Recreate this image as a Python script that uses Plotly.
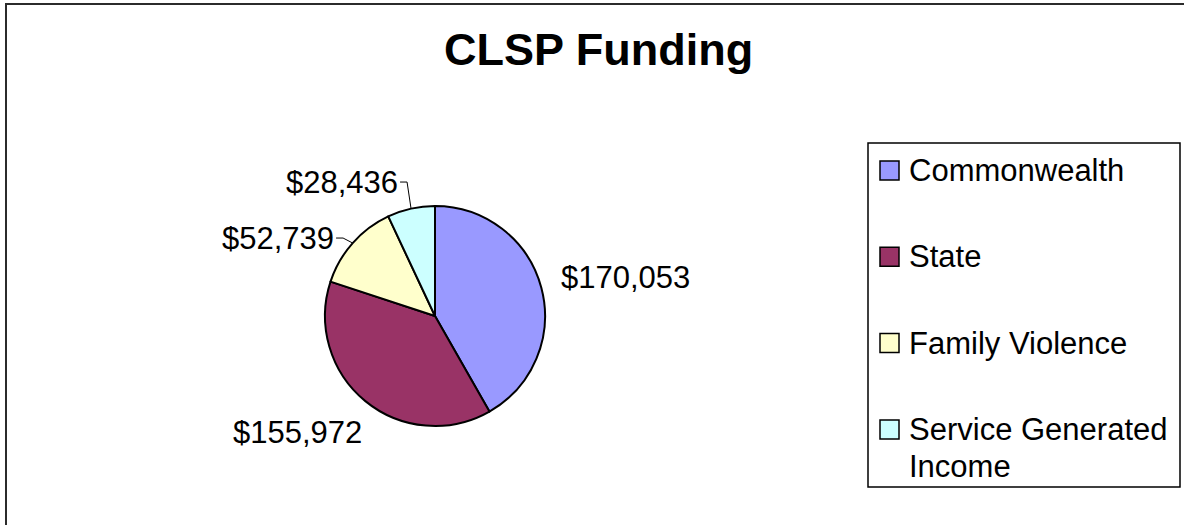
import math
import textwrap
import plotly.graph_objects as go

# Funding sources and amounts
categories = ["Commonwealth", "State", "Family Violence", "Service Generated Income"]
funding = [170053, 155972, 52739, 28436]
title_text = "CLSP Funding"

# Styling
colors = ["#9999FF", "#993366", "#FFFFCC", "#CCFFFF"]
FONT = "Liberation Sans, Arial, sans-serif"
TEXT_SIZE = 31
TITLE_SIZE = 45
W, H = 1184, 525

# Pie geometry (pixels): centre and radius
CX, CY, R = 435, 316, 110

# Value labels: offset of each label's anchor from its slice's rim point,
# and whether a leader line connects label and slice
label_offsets = [(18, -10), (-1, 31), (-16.6, -5), (-11, -26.6)]
label_leader = [False, False, True, True]

# Legend box and rows (pixels)
LEG_BOX = (868, 143, 1180, 487)
LEG_X_SWATCH, LEG_SWATCH = 880, 19
LEG_ROW0, LEG_ROW_STEP = 170.5, 86.3
LEG_LINE_STEP = 37


def px(x):
    return x / W


def py(y):
    return 1 - y / H


fig = go.Figure()

fig.add_trace(go.Pie(
    labels=categories,
    values=funding,
    sort=False,
    direction="clockwise",
    rotation=0,
    textinfo="none",
    hoverinfo="label+value+percent",
    marker=dict(colors=colors, line=dict(color="#000000", width=2)),
    domain=dict(x=[px(CX - R), px(CX + R)], y=[py(CY + R), py(CY - R)]),
    showlegend=False,
))

shapes = []
annotations = []

# Outer chart frame
shapes.append(dict(type="rect", xref="paper", yref="paper",
                   x0=px(6), y0=py(1000), x1=px(1400), y1=py(4),
                   line=dict(color="#2b2b2b", width=2), fillcolor="rgba(0,0,0,0)"))

# Value labels placed from the slice mid-angles
total = sum(funding)
start = 0.0
for i, v in enumerate(funding):
    sweep = 360.0 * v / total
    mid = math.radians(start + sweep / 2)
    start += sweep
    ex = CX + R * math.sin(mid)
    ey = CY - R * math.cos(mid)
    dx, dy = label_offsets[i]
    ax, ay = ex + dx, ey + dy
    right_side = math.sin(mid) > 0
    annotations.append(dict(
        x=px(ax), y=py(ay), xref="paper", yref="paper",
        text=f"${v:,}", showarrow=False,
        xanchor="left" if right_side else "right", yanchor="middle",
        font=dict(family=FONT, size=TEXT_SIZE, color="#000000"),
    ))
    if label_leader[i]:
        elbow = ax + (-7 if right_side else 7)
        shapes.append(dict(
            type="path", xref="paper", yref="paper",
            path=f"M {px(ex)},{py(ey)} L {px(elbow)},{py(ay)} L {px(ax)},{py(ay)}",
            line=dict(color="#000000", width=1),
        ))

# Title
annotations.append(dict(
    x=px(598.5), y=py(49.5), xref="paper", yref="paper",
    text=f"<b>{title_text}</b>", showarrow=False,
    xanchor="center", yanchor="middle",
    font=dict(family=FONT, size=TITLE_SIZE, color="#000000"),
))

# Legend
lx0, ly0, lx1, ly1 = LEG_BOX
shapes.append(dict(type="rect", xref="paper", yref="paper",
                   x0=px(lx0), y0=py(ly1), x1=px(lx1), y1=py(ly0),
                   line=dict(color="#000000", width=1.5), fillcolor="#FFFFFF",
                   layer="below"))
for i, name in enumerate(categories):
    cy = LEG_ROW0 + i * LEG_ROW_STEP
    shapes.append(dict(type="rect", xref="paper", yref="paper",
                       x0=px(LEG_X_SWATCH), y0=py(cy + LEG_SWATCH / 2),
                       x1=px(LEG_X_SWATCH + LEG_SWATCH), y1=py(cy - LEG_SWATCH / 2),
                       line=dict(color="#000000", width=1.5), fillcolor=colors[i]))
    for j, line in enumerate(textwrap.wrap(name, 17)):
        annotations.append(dict(
            x=px(LEG_X_SWATCH + LEG_SWATCH + 8), y=py(cy + j * LEG_LINE_STEP),
            xref="paper", yref="paper",
            text=line, showarrow=False, align="left",
            xanchor="left", yanchor="middle",
            font=dict(family=FONT, size=TEXT_SIZE, color="#000000"),
        ))

fig.update_layout(
    width=W, height=H,
    margin=dict(l=0, r=0, t=0, b=0),
    paper_bgcolor="#FFFFFF",
    plot_bgcolor="#FFFFFF",
    shapes=shapes,
    annotations=annotations,
    showlegend=False,
)

fig.write_html("out.html", config={"displayModeBar": False})
